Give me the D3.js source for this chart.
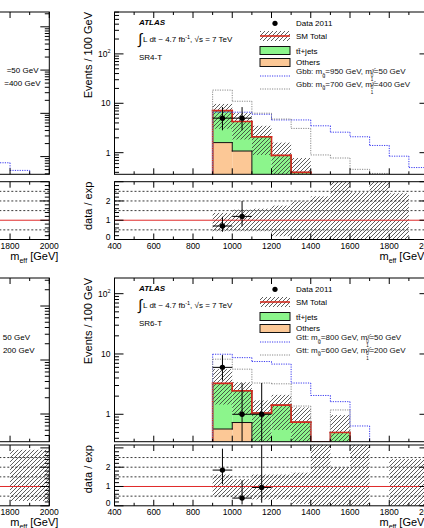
<!DOCTYPE html>
<html>
<head>
<meta charset="utf-8">
<script src="https://cdn.jsdelivr.net/npm/d3@7"></script>
<style>
  body { margin: 0; background: #fff; }
  svg { display: block; font-family: "Liberation Sans", Arial, Helvetica, sans-serif; }
</style>
</head>
<body>
<svg width="424" height="528"></svg>
<script>
// ---- values ----
const binLo = [900, 1000, 1100, 1200, 1300, 1400, 1500, 1600, 1700, 1800, 1900];
const binW = 100;
const xTickVals = [400, 600, 800, 1000, 1200, 1400, 1600, 1800, 2000];
const ratioLines = [0.5, 1.5, 2, 2.5];

// SR4-T (upper panel)
const sr4Others  = [1.6, 1.08, 0, 0, 0, 0, 0, 0, 0, 0, 0];
const sr4Ttbar   = [5.5, 3.2, 2.1, 0.88, 0.40, 0, 0, 0, 0, 0, 0];
const sr4BandLo  = [3.05, 1.85, 0.9, 0.15, 0, 0, 0, 0, 0, 0, 0];
const sr4BandHi  = [9.7, 6.4, 3.5, 1.6, 0.78, 0, 0, 0, 0, 0, 0];
const sr4SigA    = [6.6, 6.6, 6.0, 4.6, 4.6, 3.5, 2.6, 2.1, 1.4, 0.85, 0.5];
const sr4SigB    = [18.5, 11, 6.3, 4.8, 3.1, 0.9, 0.78, 0.46, 0.38, 0, 0];
const sr4RatioLo = [0.43, 0.43, 0.43, 0.17, 0, 0, 0, 0, 0, 0, null];
const sr4RatioHi = [1.38, 1.55, 1.6, 1.76, 1.98, 2.24, 3.5, 2.45, 3.5, 2.4, null];
const sr4DataX   = [950, 1050];
const sr4Data    = [5, 5];
const sr4DataLo  = [2.84, 2.84];
const sr4DataHi  = [8.38, 8.38];
const sr4Ratio      = [0.7, 1.2];
const sr4RatioErrLo = [0.4, 0.68];
const sr4RatioErrHi = [1.18, 2.0];

// SR6-T (lower panel)
const sr6Others  = [0.57, 0.73, 0, 0, 0, 0, 0, 0, 0, 0, 0];
const sr6Ttbar   = [2.68, 1.72, 1.05, 1.42, 0.74, 0, 0.50, 0, 0, 0, 0];
const sr6BandLo  = [1.45, 1.0, 0.35, 0.55, 0.07, 0, 0, 0, 0, 0, 0];
const sr6BandHi  = [5.6, 3.4, 1.7, 2.1, 1.3, 0, 0.97, 0, 0, 0, 0];
const sr6SigA    = [9.9, 8.7, 7.5, 6.8, 3.3, 2.05, 1.62, 0.64, 0, 0, 0];
const sr6SigB    = [8.2, 5.6, 3.3, 3.2, 1.37, 0, 1.18, 0, 0, 0, 0];
const sr6RatioLo = [0.45, 0.42, 0.33, 0.33, 0.1, 0, 0, 0, null, 0, 0];
const sr6RatioHi = [1.62, 1.38, 1.62, 1.62, 1.72, 3.5, 2.0, 3.5, null, 2.42, 2.42];
const sr6DataX   = [950, 1050, 1150];
const sr6Data    = [6, 1, 1];
const sr6DataLo  = [3.62, 0.17, 0.17];
const sr6DataHi  = [9.58, 3.3, 3.3];
const sr6Ratio      = [1.85, 0.4, 0.95];
const sr6RatioErrLo = [1.12, 0.07, 0.16];
const sr6RatioErrHi = [2.96, 1.32, 3.5];

// the cut-off neighbour panels on the left
const leftSigBins = [1700, 1800];
const leftSigVals = [0.72, 0.48];
const leftBandBins = [1800, 1900];
const leftBandLo = [0.25, 0.25];
const leftBandHi = [2.9, 2.9];

const colGreen = "#8cf58c", colOrange = "#fcc896", colRed = "#d42a1e";
const colBlue = "#3b3bf0", colGray = "#8a8a8a";

const svg = d3.select("svg");
const defs = svg.append("defs");

let clipId = 0;
function clipRect(x0, x1, y0, y1) {
  let id = "clip" + (clipId++);
  defs.append("clipPath").attr("id", id)
    .append("rect").attr("x", x0).attr("y", y0).attr("width", x1 - x0).attr("height", y1 - y0);
  return "url(#" + id + ")";
}

// "/" hatching drawn as real line segments, 4px apart, aligned to the page
function hatch(g, x0, x1, y0, y1) {
  if (!(x1 > x0 && y1 > y0)) return;
  let segs = [];
  for (let c = Math.ceil((x0 + y0) / 4) * 4; c <= x1 + y1; c += 4) {
    let xa = Math.max(x0, c - y1), xb = Math.min(x1, c - y0);
    if (xb > xa) segs.push([xa, c - xa, xb, c - xb]);
  }
  g.append("g").selectAll("line").data(segs).join("line")
    .attr("x1", d => d[0]).attr("y1", d => d[1]).attr("x2", d => d[2]).attr("y2", d => d[3])
    .attr("stroke", "#333").attr("stroke-width", 0.8);
}

// histogram outline as separate line pieces: floor, each bin top, back to floor
function drawStep(g, x, y, bins, vals, stroke, width, dash) {
  let last = vals.length - 1;
  while (last >= 0 && !(vals[last] > 0)) last--;
  if (last < 0) return;
  let yb = y.range()[0];
  let pts = [[x(bins[0]), yb]];
  for (let i = 0; i <= last; i++) {
    let yy = vals[i] > 0 ? y(vals[i]) : yb;
    pts.push([x(bins[i]), yy], [x(bins[i] + binW), yy]);
  }
  pts.push([x(bins[last] + binW), yb]);
  let segs = d3.pairs(pts).filter(s => Math.abs(s[0][0] - s[1][0]) + Math.abs(s[0][1] - s[1][1]) > 0.01);
  let sel = g.append("g").selectAll("line").data(segs).join("line")
    .attr("x1", d => d[0][0]).attr("y1", d => d[0][1]).attr("x2", d => d[1][0]).attr("y2", d => d[1][1])
    .attr("stroke", stroke).attr("stroke-width", width).attr("stroke-linecap", "square");
  if (dash) sel.attr("stroke-dasharray", dash).attr("stroke-linecap", "butt");
}

function logTicks(g, y, x0, x1) {
  let d = y.domain();
  let ticks = [];
  for (let e = Math.floor(Math.log10(d[0])); e <= Math.ceil(Math.log10(d[1])); e++)
    for (let k = 1; k <= 9; k++) {
      let v = k * Math.pow(10, e);
      if (v >= d[0] && v <= d[1]) ticks.push({v: v, len: k === 1 ? 9 : 4.5});
    }
  ticks.forEach(t => {
    g.append("line").attr("x1", x0).attr("x2", x0 + t.len).attr("y1", y(t.v)).attr("y2", y(t.v));
    g.append("line").attr("x1", x1).attr("x2", x1 - t.len).attr("y1", y(t.v)).attr("y2", y(t.v));
  });
}

function linTicks(g, y, x0, x1) {
  let d = y.domain();
  for (let v = 0; v <= d[1] + 1e-6; v += 0.2) {
    let major = Math.abs(v - Math.round(v)) < 1e-6;
    let len = major ? 9 : 4.5;
    g.append("line").attr("x1", x0).attr("x2", x0 + len).attr("y1", y(v)).attr("y2", y(v));
    g.append("line").attr("x1", x1).attr("x2", x1 - len).attr("y1", y(v)).attr("y2", y(v));
  }
}

function xTicks(g, x, yTop, yBot) {
  d3.range(400, 2001, 100).forEach(v => {
    let len = v % 200 === 0 ? 6 : 3;
    g.append("line").attr("x1", x(v)).attr("x2", x(v)).attr("y1", yBot).attr("y2", yBot - len);
    g.append("line").attr("x1", x(v)).attr("x2", x(v)).attr("y1", yTop).attr("y2", yTop + len);
  });
}

function frame(g, x0, x1, y0, y1) {
  g.append("rect").attr("x", x0).attr("y", y0).attr("width", x1 - x0).attr("height", y1 - y0)
    .attr("fill", "none").attr("stroke", "#000").attr("stroke-width", 1);
}

function xTitle(g, xEnd, yBase) {
  let t = g.append("text").attr("x", xEnd).attr("y", yBase).attr("text-anchor", "end")
    .attr("font-size", 11);
  t.append("tspan").text("m");
  t.append("tspan").attr("font-size", 7).attr("dy", 2.5).text("eff");
  t.append("tspan").attr("dy", -2.5).text(" [GeV]");
}

function ratioAxis(g, x, yr, x0, x1) {
  g.append("g").selectAll("line").data(ratioLines).join("line")
    .attr("x1", x0).attr("x2", x1).attr("y1", d => yr(d)).attr("y2", d => yr(d))
    .attr("stroke", "#222").attr("stroke-width", 0.9).attr("stroke-dasharray", "2,2");
  g.append("line").attr("x1", x0).attr("x2", x1).attr("y1", yr(1)).attr("y2", yr(1))
    .attr("stroke", "#e02a2a").attr("stroke-width", 1);
}

function signalLegend(g, x, y, name, mg, mchi) {
  let t = g.append("text").attr("x", x).attr("y", y).attr("font-size", 8).attr("fill", "#111");
  t.append("tspan").text(name + ": m");
  t.append("tspan").attr("font-size", 5.5).attr("dy", 2.5).text("g\u0303");
  t.append("tspan").attr("dy", -2.5).text("=" + mg + " GeV, m");
  t.append("tspan").attr("font-size", 4.5).attr("dy", -2).text("\u03c7\u0303");
  t.append("tspan").attr("font-size", 4.5).attr("dx", -3.5).attr("dy", 4.5).text("0");
  t.append("tspan").attr("font-size", 4.5).attr("dx", -2.5).attr("dy", 4.5).text("1");
  t.append("tspan").attr("dy", -7).attr("dx", 0.5).text("=" + mchi + " GeV");
}

function drawPanel(p) {
  let g = svg.append("g");
  let x = d3.scaleLinear().domain([400, 2000]).range([p.x0, p.x1]);
  let y = d3.scaleLog().domain(p.yDomain).range([p.mainBot, p.mainTop]).clamp(true);
  let yr = d3.scaleLinear().domain(p.rDomain).range([p.ratioBot, p.ratioTop]).clamp(true);

  let gm = g.append("g").attr("clip-path", clipRect(p.x0, p.x1, p.mainTop, p.mainBot));

  // stacked backgrounds
  let rows = binLo.map((b, i) => ({bin: b, others: p.others[i], ttbar: p.ttbar[i]}));
  let stack = d3.stack().keys(["others", "ttbar"])(rows);
  let fills = {others: colOrange, ttbar: colGreen};
  stack.forEach(layer => {
    gm.append("g").selectAll("rect").data(layer.filter(d => d[1] > d[0])).join("rect")
      .attr("x", d => x(d.data.bin)).attr("width", x(binLo[1]) - x(binLo[0]))
      .attr("y", d => y(d[1]))
      .attr("height", d => (d[0] > 0 ? y(d[0]) : p.mainBot) - y(d[1]))
      .attr("fill", fills[layer.key]);
  });
  stack.forEach(layer => drawStep(gm, x, y, binLo, layer.map(d => d[1]), "#111", 1));

  // uncertainty band
  binLo.forEach((b, i) => {
    if (p.bandHi[i] > 0) hatch(gm, x(b), x(b + binW), y(p.bandHi[i]), y(p.bandLo[i]));
  });

  // SM total
  drawStep(gm, x, y, binLo, stack[1].map(d => d[1]), colRed, 1.6);

  // signals
  drawStep(gm, x, y, binLo, p.sigA, colBlue, 1, "1.2,1.2");
  drawStep(gm, x, y, binLo, p.sigB, colGray, 1, "1.2,1.2");

  // data
  let pts = p.dataX.map((v, i) => ({x: v, y: p.data[i], lo: p.dataLo[i], hi: p.dataHi[i]}));
  gm.append("g").selectAll("line").data(pts).join("line")
    .attr("x1", d => x(d.x)).attr("x2", d => x(d.x)).attr("y1", d => y(d.lo)).attr("y2", d => y(d.hi))
    .attr("stroke", "#000").attr("stroke-width", 1);
  gm.append("g").selectAll("line").data(pts).join("line")
    .attr("x1", d => x(d.x - binW / 2)).attr("x2", d => x(d.x + binW / 2)).attr("y1", d => y(d.y)).attr("y2", d => y(d.y))
    .attr("stroke", "#000").attr("stroke-width", 1);
  gm.append("g").selectAll("circle").data(pts).join("circle")
    .attr("cx", d => x(d.x)).attr("cy", d => y(d.y)).attr("r", 2.7).attr("fill", "#000");

  let ga = g.append("g").attr("stroke", "#000").attr("stroke-width", 1);
  logTicks(ga, y, p.x0, p.x1);
  xTicks(ga, x, p.mainTop, p.mainBot);
  frame(g, p.x0, p.x1, p.mainTop, p.mainBot);

  // y labels
  [1, 10, 100].forEach(v => {
    let t = g.append("text").attr("x", p.x0 - 4).attr("y", y(v) + 3).attr("text-anchor", "end")
      .attr("font-size", 8.5).text(v === 100 ? "10" : String(v));
    if (v === 100) t.append("tspan").attr("font-size", 5.5).attr("dy", -3.5).text("2");
  });
  g.append("text").attr("transform", "translate(92," + p.mainTop + ") rotate(-90)")
    .attr("text-anchor", "end").attr("font-size", 11).text("Events / 100 GeV");

  // labels inside the plot
  let lx = p.x0 + 24.5;
  g.append("text").attr("x", lx).attr("y", p.mainTop + 12.5).attr("font-size", 8)
    .attr("font-weight", "bold").attr("font-style", "italic").text("ATLAS");
  g.append("text").attr("x", lx - 1).attr("y", p.mainTop + 32).attr("font-size", 15)
    .attr("font-weight", 300).text("\u222b");
  let lumi = g.append("text").attr("x", lx + 4).attr("y", p.mainTop + 30).attr("font-size", 8);
  lumi.append("tspan").text("L dt ~ 4.7 fb");
  lumi.append("tspan").attr("font-size", 5.5).attr("dy", -3).text("-1");
  lumi.append("tspan").attr("dy", 3).text(", \u221as = 7 TeV");
  g.append("text").attr("x", lx).attr("y", p.mainTop + 47.5).attr("font-size", 8).text(p.region);

  // legend
  let gl = g.append("g");
  let t0 = p.mainTop;
  gl.append("circle").attr("cx", 275).attr("cy", t0 + 11.3).attr("r", 2.6).attr("fill", "#000");
  hatch(gl, 260, 290, t0 + 19, t0 + 29);
  gl.append("line").attr("x1", 260).attr("x2", 290).attr("y1", t0 + 24).attr("y2", t0 + 24)
    .attr("stroke", colRed).attr("stroke-width", 1.6);
  gl.append("rect").attr("x", 260).attr("y", t0 + 34.5).attr("width", 30).attr("height", 8)
    .attr("fill", colGreen).attr("stroke", "#111");
  gl.append("rect").attr("x", 260).attr("y", t0 + 46.5).attr("width", 30).attr("height", 8)
    .attr("fill", colOrange).attr("stroke", "#111");
  gl.append("line").attr("x1", 260).attr("x2", 290).attr("y1", t0 + 64).attr("y2", t0 + 64)
    .attr("stroke", colBlue).attr("stroke-dasharray", "1.2,1.2");
  gl.append("line").attr("x1", 260).attr("x2", 290).attr("y1", t0 + 77).attr("y2", t0 + 77)
    .attr("stroke", colGray).attr("stroke-dasharray", "1.2,1.2");
  let tx = 296;
  gl.append("text").attr("x", tx).attr("y", t0 + 14.3).attr("font-size", 8).text("Data 2011");
  gl.append("text").attr("x", tx).attr("y", t0 + 27).attr("font-size", 8).text("SM Total");
  gl.append("text").attr("x", tx).attr("y", t0 + 41.7).attr("font-size", 8).text("tt\u0304+jets");
  gl.append("text").attr("x", tx).attr("y", t0 + 53.3).attr("font-size", 8).text("Others");
  signalLegend(gl, tx, t0 + 62, p.sigName, p.sigAmg, p.sigAmchi);
  signalLegend(gl, tx, t0 + 74.5, p.sigName, p.sigBmg, p.sigBmchi);

  // ratio panel
  let gr = g.append("g").attr("clip-path", clipRect(p.x0, p.x1, p.ratioTop, p.ratioBot));
  binLo.forEach((b, i) => {
    if (p.ratioHi[i] != null) hatch(gr, x(b), x(b + binW), yr(p.ratioHi[i]), yr(p.ratioLo[i]));
  });
  ratioAxis(gr, x, yr, p.x0, p.x1);
  let rp = p.dataX.map((v, i) => ({x: v, y: p.ratio[i], lo: p.ratioErrLo[i], hi: p.ratioErrHi[i]}));
  gr.append("g").selectAll("line").data(rp).join("line")
    .attr("x1", d => x(d.x)).attr("x2", d => x(d.x)).attr("y1", d => yr(d.lo)).attr("y2", d => yr(d.hi))
    .attr("stroke", "#000");
  gr.append("g").selectAll("line").data(rp).join("line")
    .attr("x1", d => x(d.x - binW / 2)).attr("x2", d => x(d.x + binW / 2)).attr("y1", d => yr(d.y)).attr("y2", d => yr(d.y))
    .attr("stroke", "#000");
  gr.append("g").selectAll("circle").data(rp).join("circle")
    .attr("cx", d => x(d.x)).attr("cy", d => yr(d.y)).attr("r", 2.7).attr("fill", "#000");

  let gra = g.append("g").attr("stroke", "#000").attr("stroke-width", 1);
  linTicks(gra, yr, p.x0, p.x1);
  xTicks(gra, x, p.ratioTop, p.ratioBot);
  frame(g, p.x0, p.x1, p.ratioTop, p.ratioBot);
  [0, 1, 2].forEach(v => {
    g.append("text").attr("x", p.x0 - 4).attr("y", Math.min(yr(v) + 3, p.ratioBot))
      .attr("text-anchor", "end").attr("font-size", 8.5).text(v);
  });
  g.append("text").attr("transform", "translate(92," + p.ratioTop + ") rotate(-90)")
    .attr("text-anchor", "end").attr("font-size", 11).text("data / exp");
  g.append("g").selectAll("text").data(xTickVals).join("text")
    .attr("x", d => x(d)).attr("y", p.ratioBot + 9).attr("text-anchor", "middle")
    .attr("font-size", 8.5).text(d => d);
  xTitle(g, p.x1 - 1, p.ratioBot + 20.5);
}

// neighbouring panels, only their right edge shows
function drawLeftPanel(p) {
  let g = svg.append("g");
  let x = d3.scaleLinear().domain([400, 2000]).range([p.x0, p.x1]);
  let y = d3.scaleLog().domain(p.yDomain).range([p.mainBot, p.mainTop]).clamp(true);
  let yr = d3.scaleLinear().domain(p.rDomain).range([p.ratioBot, p.ratioTop]).clamp(true);
  let gm = g.append("g").attr("clip-path", clipRect(p.x0, p.x1, p.mainTop, p.mainBot));
  if (p.sigBins) drawStep(gm, x, y, p.sigBins, p.sigVals, colBlue, 1, "1.2,1.2");
  let ga = g.append("g").attr("stroke", "#000");
  logTicks(ga, y, p.x0, p.x1);
  xTicks(ga, x, p.mainTop, p.mainBot);
  frame(g, p.x0, p.x1, p.mainTop, p.mainBot);
  p.legend.forEach(l => g.append("text").attr("x", l.x).attr("y", l.y).attr("text-anchor", "end")
    .attr("font-size", 8).text(l.t));

  let gr = g.append("g").attr("clip-path", clipRect(p.x0, p.x1, p.ratioTop, p.ratioBot));
  if (p.bandBins) {
    p.bandBins.forEach((b, i) => hatch(gr, x(b), x(b + binW), yr(p.bandHi[i]), yr(p.bandLo[i])));
  }
  ratioAxis(gr, x, yr, p.x0, p.x1);
  let gra = g.append("g").attr("stroke", "#000");
  linTicks(gra, yr, p.x0, p.x1);
  xTicks(gra, x, p.ratioTop, p.ratioBot);
  frame(g, p.x0, p.x1, p.ratioTop, p.ratioBot);
  g.append("g").selectAll("text").data(xTickVals).join("text")
    .attr("x", d => x(d)).attr("y", p.ratioBot + 9).attr("text-anchor", "middle")
    .attr("font-size", 8.5).text(d => d);
  xTitle(g, p.x1 + 9, p.ratioBot + 20.5);
}

const RX0 = 114.5, RX1 = 428.5;
const LX1 = 49.3, LX0 = LX1 - (RX1 - RX0);

drawLeftPanel({
  x0: LX0, x1: LX1, mainTop: 12, mainBot: 174.3, yDomain: [0.39, 2200],
  ratioTop: 181.7, ratioBot: 239.5, rDomain: [0, 3],
  sigBins: leftSigBins, sigVals: leftSigVals,
  legend: [{x: 38.5, y: 73, t: "=50 GeV"}, {x: 40.5, y: 86, t: "=400 GeV"}]
});
drawLeftPanel({
  x0: LX0, x1: LX1, mainTop: 278, mainBot: 441.7, yDomain: [0.307, 330],
  ratioTop: 445, ratioBot: 505.8, rDomain: [0, 3.15],
  bandBins: leftBandBins, bandLo: leftBandLo, bandHi: leftBandHi,
  legend: [{x: 30, y: 340.3, t: "50 GeV"}, {x: 34.5, y: 353, t: "200 GeV"}]
});

drawPanel({
  x0: RX0, x1: RX1, mainTop: 12, mainBot: 174.3, yDomain: [0.365, 705],
  ratioTop: 181.7, ratioBot: 239.5, rDomain: [0, 3],
  others: sr4Others, ttbar: sr4Ttbar, bandLo: sr4BandLo, bandHi: sr4BandHi,
  sigA: sr4SigA, sigB: sr4SigB, sigName: "Gbb", sigAmg: 950, sigAmchi: 50, sigBmg: 700, sigBmchi: 400,
  ratioLo: sr4RatioLo, ratioHi: sr4RatioHi,
  dataX: sr4DataX, data: sr4Data, dataLo: sr4DataLo, dataHi: sr4DataHi,
  ratio: sr4Ratio, ratioErrLo: sr4RatioErrLo, ratioErrHi: sr4RatioErrHi,
  region: "SR4-T"
});
drawPanel({
  x0: RX0, x1: RX1, mainTop: 278, mainBot: 441.7, yDomain: [0.351, 182],
  ratioTop: 445, ratioBot: 505.8, rDomain: [0, 3.15],
  others: sr6Others, ttbar: sr6Ttbar, bandLo: sr6BandLo, bandHi: sr6BandHi,
  sigA: sr6SigA, sigB: sr6SigB, sigName: "Gtt", sigAmg: 800, sigAmchi: 50, sigBmg: 600, sigBmchi: 200,
  ratioLo: sr6RatioLo, ratioHi: sr6RatioHi,
  dataX: sr6DataX, data: sr6Data, dataLo: sr6DataLo, dataHi: sr6DataHi,
  ratio: sr6Ratio, ratioErrLo: sr6RatioErrLo, ratioErrHi: sr6RatioErrHi,
  region: "SR6-T"
});
</script>
</body>
</html>
